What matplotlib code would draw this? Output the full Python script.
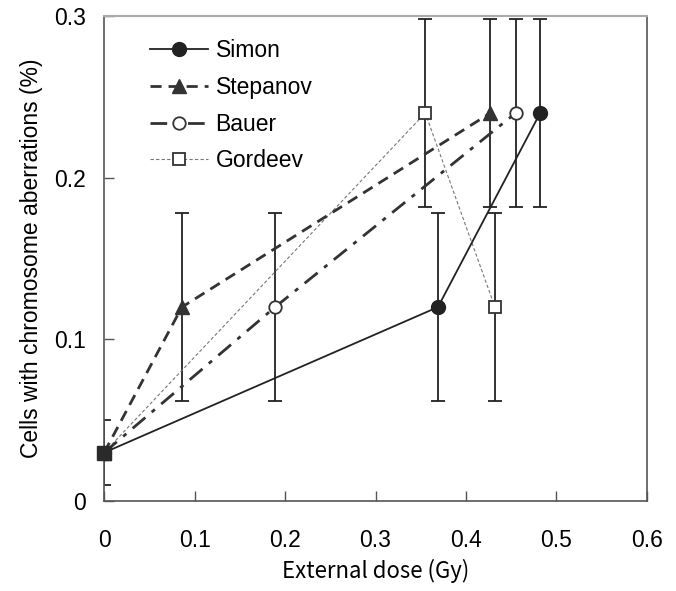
import matplotlib
matplotlib.use("Agg")
import matplotlib.pyplot as plt

# data
simon_x = [0, 0.369, 0.482]
simon_y = [0.03, 0.12, 0.24]
stepanov_x = [0, 0.086, 0.427]
stepanov_y = [0.03, 0.12, 0.24]
bauer_x = [0, 0.189, 0.455]
bauer_y = [0.03, 0.12, 0.24]
gordeev_x = [0, 0.355, 0.432]
gordeev_y = [0.03, 0.24, 0.12]

# error bar half widths by y level
err_by_y = {0.03: 0.02, 0.12: 0.058, 0.24: 0.058}

xticks = [0, 0.1, 0.2, 0.3, 0.4, 0.5, 0.6]
xticklabels = ["0", "0.1", "0.2", "0.3", "0.4", "0.5", "0.6"]
yticks = [0, 0.1, 0.2, 0.3]
yticklabels = ["0", "0.1", "0.2", "0.3"]

plt.rcParams['font.family'] = ['Liberation Sans', 'DejaVu Sans']

fig = plt.figure(figsize=(6.76, 5.91), dpi=100)
ax = fig.add_axes([0.154, 0.152, 0.803, 0.821])

ebar_col = '#222222'
# error bars (drawn once per point, shared origin)
pts = set()
for xs, ys in [(simon_x, simon_y), (stepanov_x, stepanov_y),
               (bauer_x, bauer_y), (gordeev_x, gordeev_y)]:
    for x, y in zip(xs, ys):
        pts.add((x, y))
for x, y in sorted(pts):
    ax.errorbar([x], [y], yerr=[err_by_y[y]], fmt='none', ecolor=ebar_col,
                elinewidth=1.3, capsize=5, capthick=1.3, zorder=2)

ax.plot(gordeev_x, gordeev_y, linestyle=(0, (3, 2)), color='#777777', lw=0.8,
        marker='s', ms=9, mfc='white', mec='#333333', mew=1.3, label='Gordeev', zorder=3)
ax.plot(bauer_x, bauer_y, linestyle=(0, (6, 3, 1.5, 3)), color='#333333', lw=2.0,
        marker='o', ms=9, mfc='white', mec='#333333', mew=1.3, label='Bauer', zorder=4)
ax.plot(stepanov_x, stepanov_y, linestyle=(0, (4, 2.5)), color='#333333', lw=2.0,
        marker='^', ms=10, mfc='#333333', mec='#333333', label='Stepanov', zorder=5)
ax.plot(simon_x, simon_y, linestyle='-', color='#222222', lw=1.3,
        marker='o', ms=10, mfc='#222222', mec='#222222', label='Simon', zorder=6)
# shared origin point shows as a dark filled square
ax.plot(gordeev_x[:1], gordeev_y[:1], linestyle='none', marker='s', ms=10,
        mfc='#2a2a2a', mec='#2a2a2a', zorder=7, clip_on=False)

# legend handles in order Simon, Stepanov, Bauer, Gordeev
handles, labels = ax.get_legend_handles_labels()
order = [3, 2, 1, 0]
leg = ax.legend([handles[i] for i in order], [labels[i] for i in order],
                loc='upper left', bbox_to_anchor=(0.085, 0.952), frameon=False,
                borderaxespad=0, borderpad=0, fontsize=16.5, handlelength=2.5,
                handletextpad=0.35, labelspacing=0.6)

ax.set_xlim(0, 0.6)
ax.set_ylim(0, 0.3)
ax.set_xticks(xticks)
ax.set_xticklabels(xticklabels)
ax.set_yticks(yticks)
ax.set_yticklabels(yticklabels)
ax.tick_params(axis='both', direction='in', length=7, width=1, colors='#555555',
               labelcolor='black', labelsize=16.5)
ax.tick_params(axis='x', pad=20)
ax.tick_params(axis='y', pad=13)

for side in ['left', 'bottom', 'right']:
    ax.spines[side].set_color('#555555')
    ax.spines[side].set_linewidth(1.2)
ax.spines['top'].set_color('#aaaaaa')
ax.spines['top'].set_linewidth(1.5)

ax.set_xlabel('External dose (Gy)', fontsize=16,
              family=['Noto Sans CJK JP', 'DejaVu Sans'], labelpad=5)
ax.set_ylabel('Cells with chromosome aberrations (%)', fontsize=16.5,
              family=['Liberation Sans', 'DejaVu Sans'], labelpad=8)

fig.savefig('out.png', dpi=100)
